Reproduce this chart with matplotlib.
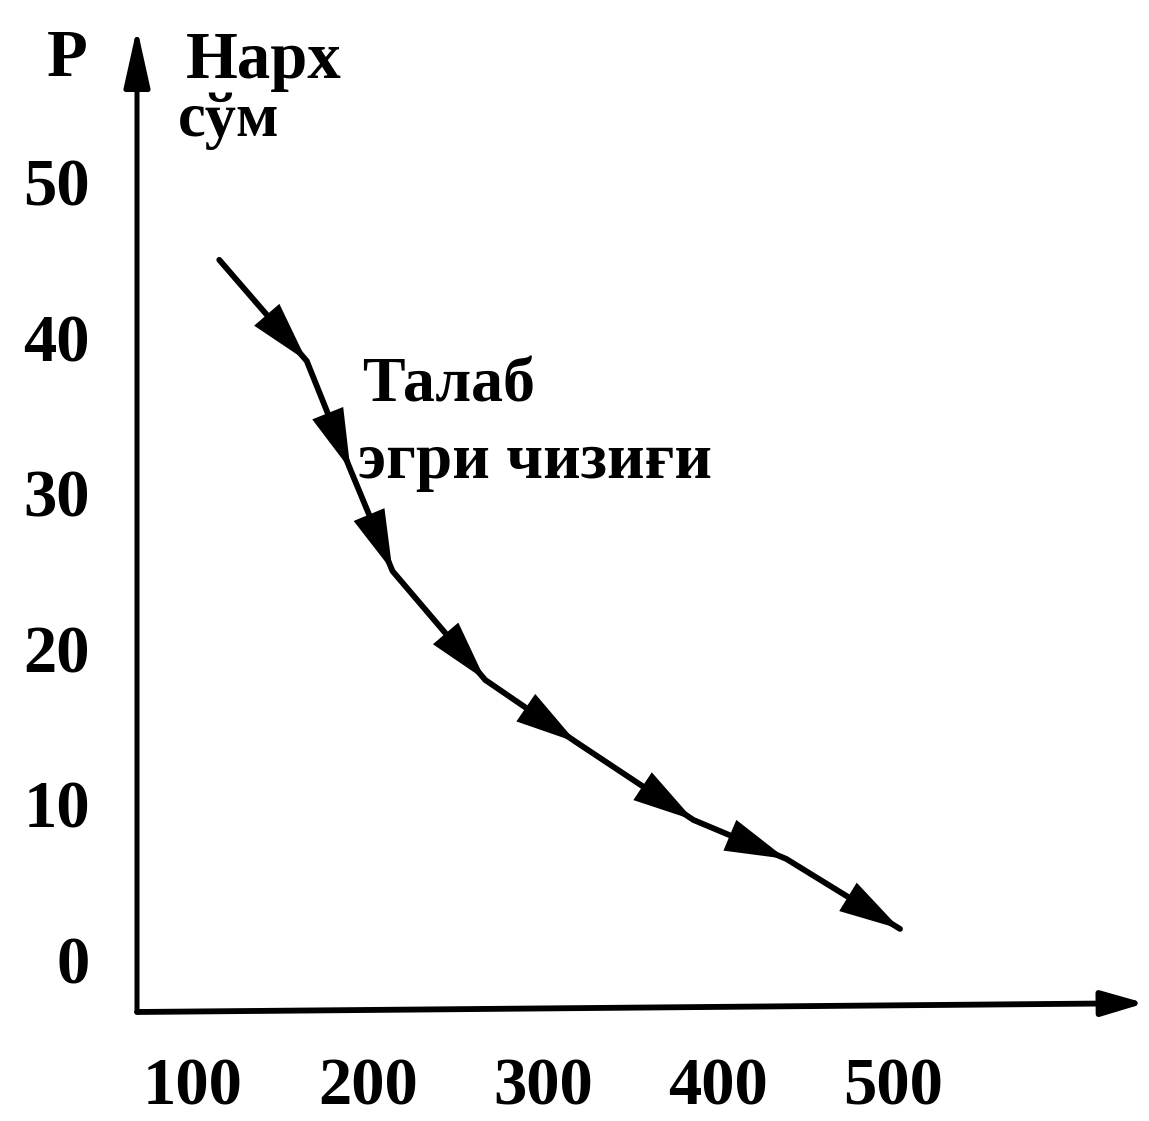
import matplotlib
matplotlib.use("Agg")
import matplotlib.pyplot as plt

# demand curve (quantity, price in сўм)
quantity = [115, 165, 190, 214, 267, 319, 386, 439, 504]
price = [45, 38.5, 31.5, 25, 18, 14, 9, 6.5, 2]

x_ticks = [100, 200, 300, 400, 500]
y_ticks = [0, 10, 20, 30, 40, 50]

W, H = 1149, 1121
fam = ["Liberation Serif", "DejaVu Serif"]

fig = plt.figure(figsize=(W / 100, H / 100), dpi=100)
ax = fig.add_axes([137 / W, 1 - 1012 / H, (1145 - 137) / W, (1012 - 28) / H])
ax.set_xlim(68, 644)
ax.set_ylim(-3.34, 59.9)

for s in ax.spines.values():
    s.set_visible(False)

# axes drawn as arrows
ax.annotate("", xy=(0, 1), xytext=(0, 0), xycoords="axes fraction",
            arrowprops=dict(arrowstyle="-|>,head_length=1.8,head_width=0.4",
                            mutation_scale=20, lw=3.6, color="black",
                            shrinkA=0, shrinkB=0))
ax.annotate("", xy=(1, 0.009), xytext=(0, 0), xycoords="axes fraction",
            arrowprops=dict(arrowstyle="-|>,head_length=1.3,head_width=0.38",
                            mutation_scale=20, lw=4.2, color="black",
                            shrinkA=0, shrinkB=0))

# the curve itself
ax.plot(quantity, price, color="black", lw=4.2, solid_joinstyle="round",
        solid_capstyle="round")

# arrowheads pointing down the curve at every vertex
for i in range(len(quantity) - 1):
    ax.annotate("", xy=(quantity[i + 1], price[i + 1]),
                xytext=(quantity[i], price[i]),
                arrowprops=dict(arrowstyle="-|>,head_length=2.2,head_width=0.6",
                                mutation_scale=20, lw=0, color="black",
                                shrinkA=0, shrinkB=0))

ax.set_xticks(x_ticks)
ax.set_xticklabels([str(v) for v in x_ticks])
ax.set_yticks(y_ticks)
ax.set_yticklabels([str(v) for v in y_ticks])
ax.tick_params(length=0, labelsize=48)
ax.tick_params(axis="y", pad=34)
ax.tick_params(axis="x", pad=33)
for lab in ax.get_xticklabels() + ax.get_yticklabels():
    lab.set_family(fam)
    lab.set_fontweight("bold")

def ftext(px, py, s, size=46, ha="left"):
    fig.text(px / W, 1 - py / H, s, fontsize=size, family=fam,
             fontweight="bold", ha=ha, va="baseline")

ftext(67, 76, "P", ha="center", size=48)
ftext(186, 78, "Нарх", size=48)
ftext(178, 136, "сўм", size=45)
ftext(362, 402, "Талаб")
ftext(358, 478, "эгри чизиғи", size=47)

fig.savefig("out.png", dpi=100)
